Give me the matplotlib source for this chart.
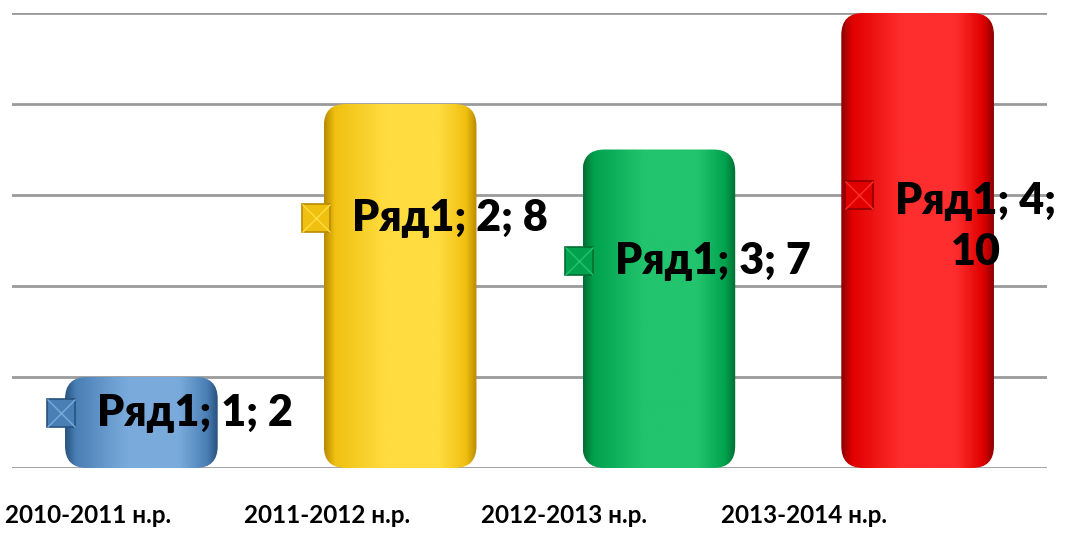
import matplotlib
matplotlib.use('Agg')
import matplotlib.pyplot as plt
import numpy as np
from matplotlib.patches import FancyBboxPatch
from matplotlib.colors import LinearSegmentedColormap

plt.rcParams['font.family'] = ['Lato', 'DejaVu Sans']

# data
categories = ['2010-2011 н.р.', '2011-2012 н.р.', '2012-2013 н.р.', '2013-2014 н.р.']
values = [2, 8, 7, 10]
series_name = 'Ряд1'

# shading per bar: (dark edge, mid, light centre)
shades = [('#27527e', '#4a7fb5', '#7aaadb'),
          ('#b88a00', '#f0c010', '#ffdc40'),
          ('#006e32', '#00a24e', '#22c46e'),
          ('#8c0000', '#e00000', '#ff2e2e')]
# label anchors (data y) and key-marker offsets from the category
label_y = [1.2, 5.5, 4.55, 5.31]
key_dx = [-0.311, -0.325, -0.309, -0.227]

fig = plt.figure(figsize=(10.71, 5.33), dpi=100)
ax = fig.add_axes([12 / 1071, 65 / 533, 1035 / 1071, 455 / 533])
x = np.arange(len(values))
ax.set_xlim(-0.5, 3.5)
ax.set_ylim(0, 10)
ax.set_yticks(np.arange(0, 11, 2))
ax.grid(axis='y', color='#9a9a9a', lw=2)
ax.set_axisbelow(True)
for s in ax.spines.values():
    s.set_visible(False)
ax.set_xticks([])
ax.tick_params(left=False, labelleft=False)

bars = ax.bar(x, values, width=0.59, color='none', edgecolor='none')

aspect = (1035 / 4) / 45.5
grad_x = np.linspace(0, 1, 256)
for b, (dark, mid, light) in zip(bars, shades):
    x0, w, h = b.get_x(), b.get_width(), b.get_height()
    patch = FancyBboxPatch((x0, 0), w, h,
                           boxstyle='round,pad=0,rounding_size=0.085',
                           mutation_aspect=aspect, facecolor='none', edgecolor='none')
    ax.add_patch(patch)
    cmap = LinearSegmentedColormap.from_list(
        'c', [(0, dark), (0.07, mid), (0.4, light), (0.75, light), (0.93, mid), (1, dark)])
    img = np.tile(grad_x, (2, 1))
    im = ax.imshow(img, cmap=cmap, extent=(x0, x0 + w, 0, h), aspect='auto',
                   interpolation='bicubic', zorder=2)
    im.set_clip_path(patch)

# data labels with legend key markers
for i, (v, (dark, mid, light)) in enumerate(zip(values, shades)):
    mx = i + key_dx[i]
    ax.plot(mx, label_y[i] if v < 10 else 6.0, marker='s', ms=20, color=mid,
            mec=dark, mew=1.2, zorder=4, clip_on=False)
    ax.plot(mx, label_y[i] if v < 10 else 6.0, marker='x', ms=20, mec=light,
            mew=1.0, zorder=4, clip_on=False)
    txt = f'{series_name}; {i + 1}; {v}'
    if v >= 10:
        txt = f'{series_name}; {i + 1};\n{v}'
    ax.text(mx + 0.14, label_y[i], txt, fontsize=31, fontweight='heavy',
            ha='left', va='center', zorder=5, linespacing=1.35,
            multialignment='center', clip_on=False)

# category labels (shifted left as in the perspective layout)
shift = [-0.206, -0.283, -0.367, -0.439]
for i, c in enumerate(categories):
    ax.text(i + shift[i], -1.05, c, fontsize=17.5, fontweight='bold',
            ha='center', va='center')

fig.savefig('out.png', dpi=100)
